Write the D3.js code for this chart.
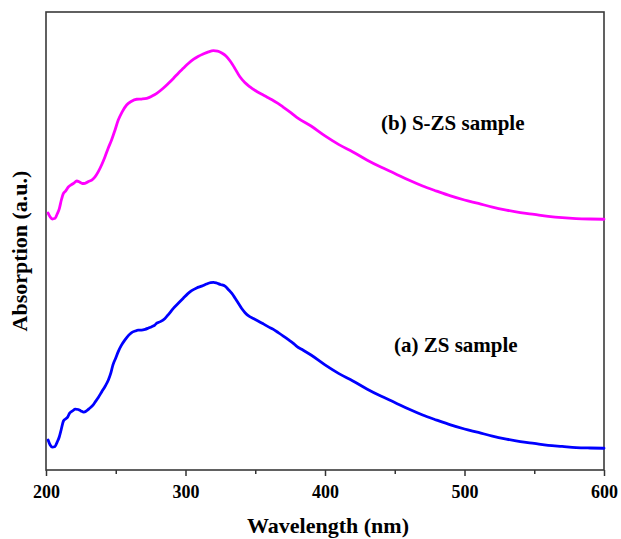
<!DOCTYPE html>
<html>
<head>
<meta charset="utf-8">
<script src="https://cdn.jsdelivr.net/npm/d3@7"></script>
<style>
  html, body { margin: 0; padding: 0; background: #fff; }
  svg { display: block; }
  text { font-family: "Liberation Serif", "Times New Roman", serif; font-weight: bold; fill: #000; }
</style>
</head>
<body>
<svg id="chart" width="621" height="539"></svg>
<script>
// UV-Vis absorption spectra (arbitrary units)
const wavelengthA = [201.5,203,204.5,206.5,208,209.5,211,212.5,214,215.5,217,219,221,223,225,227,229,231.5,233.5,235,237.5,240,242.5,244.7,246.5,248,250,251.8,254,256.6,259,261.4,264,266,268.5,271,273.5,275.8,278,279.4,282,285.3,288,291.3,295,298.4,301.5,304.4,308,311.6,315,318,320,322,325,328.3,331,333.1,335.5,337.9,340.3,342.7,345.5,348.6,352,355.8,359.5,363,366.5,370.1,373.5,377.3,380,383.3,390,400,410,420,430,440,450,460,470,480,490,500,510,520,530,540,550,560,570,580,590,600];
const absorbanceA = [0.131,0.109,0.100,0.103,0.122,0.144,0.179,0.214,0.223,0.231,0.249,0.258,0.266,0.264,0.258,0.253,0.258,0.271,0.282,0.295,0.317,0.342,0.367,0.393,0.424,0.459,0.489,0.517,0.544,0.568,0.587,0.600,0.607,0.611,0.611,0.614,0.620,0.626,0.633,0.641,0.648,0.662,0.681,0.706,0.729,0.750,0.769,0.783,0.795,0.803,0.812,0.818,0.819,0.817,0.810,0.803,0.786,0.772,0.751,0.728,0.705,0.687,0.672,0.662,0.651,0.638,0.625,0.614,0.600,0.585,0.570,0.553,0.539,0.527,0.502,0.459,0.421,0.389,0.354,0.323,0.295,0.266,0.240,0.218,0.197,0.179,0.164,0.148,0.135,0.124,0.116,0.108,0.103,0.098,0.096,0.095];

const wavelengthB = [201.5,203,204.5,206.5,208,209.5,211,212.5,214,216,218,220,222,224,226,228,230.5,232.8,235,237.5,240,242.3,244.5,247,249.5,251.8,254.5,257.8,261,265,268.5,272.2,276,279.4,284,288,291.3,295,298.4,302,305.6,309,312.8,316.5,320,323,326,329,332,335,339,342.5,346,350,354,358,362,366,370,375,380,390,400,410,420,430,440,450,460,470,480,490,500,510,520,530,540,550,560,570,580,590,600];
const absorbanceB = [1.122,1.105,1.096,1.099,1.118,1.140,1.179,1.208,1.218,1.236,1.245,1.253,1.262,1.258,1.251,1.252,1.260,1.266,1.279,1.303,1.334,1.368,1.404,1.441,1.485,1.528,1.563,1.594,1.609,1.619,1.620,1.623,1.633,1.645,1.667,1.690,1.710,1.734,1.754,1.775,1.793,1.806,1.817,1.826,1.831,1.829,1.821,1.808,1.786,1.758,1.717,1.692,1.674,1.657,1.643,1.630,1.617,1.602,1.585,1.563,1.539,1.502,1.459,1.421,1.389,1.354,1.323,1.295,1.266,1.240,1.218,1.197,1.179,1.164,1.148,1.135,1.124,1.116,1.108,1.102,1.098,1.096,1.095];

const majorTicks = [200, 300, 400, 500, 600];
const minorTicks = [250, 350, 450, 550];
const seriesLabels = ["(a) ZS sample", "(b) S-ZS sample"];

const svg = d3.select("#chart");
const plot = { left: 46, top: 12, right: 604, bottom: 470 };

const x = d3.scaleLinear().domain([200, 600]).range([plot.left, plot.right]);
const y = d3.scaleLinear().domain([0, 2]).range([plot.bottom, plot.top]);

// bottom axis: major ticks with labels, minor ticks without
const majorAxis = d3.axisBottom(x).tickValues(majorTicks).tickSize(6).tickFormat(d3.format("d"));
const minorAxis = d3.axisBottom(x).tickValues(minorTicks).tickSize(4).tickFormat("");

const gMajor = svg.append("g").attr("transform", `translate(0,${plot.bottom})`).call(majorAxis);
gMajor.select(".domain").remove();
gMajor.selectAll(".tick line").attr("stroke", "#333").attr("stroke-width", 1.5);
gMajor.selectAll(".tick text")
  .attr("y", 15)
  .attr("dy", "0.71em")
  .style("font-size", "18px")
  .style("font-family", "'Liberation Serif', serif")
  .style("font-weight", "bold")
  .attr("fill", "#000");

const gMinor = svg.append("g").attr("transform", `translate(0,${plot.bottom})`).call(minorAxis);
gMinor.select(".domain").remove();
gMinor.selectAll(".tick line").attr("stroke", "#333").attr("stroke-width", 1.5);

// plot frame
svg.append("rect")
  .attr("x", plot.left).attr("y", plot.top)
  .attr("width", plot.right - plot.left).attr("height", plot.bottom - plot.top)
  .attr("fill", "none").attr("stroke", "#3a3a3a").attr("stroke-width", 1.6);

// spectra
const line = d3.line().x(d => x(d[0])).y(d => y(d[1])).curve(d3.curveMonotoneX);
const series = [
  { w: wavelengthA, a: absorbanceA, color: "#0000ff" },
  { w: wavelengthB, a: absorbanceB, color: "#ff00ff" }
];
series.forEach(s => {
  svg.append("path")
    .datum(s.w.map((w, i) => [w, s.a[i]]))
    .attr("fill", "none")
    .attr("stroke", s.color)
    .attr("stroke-width", 2.8)
    .attr("stroke-linejoin", "round")
    .attr("stroke-linecap", "round")
    .attr("d", line);
});

// series annotations
svg.append("text").attr("x", 394).attr("y", 352).style("font-size", "21px").text(seriesLabels[0]);
svg.append("text").attr("x", 381).attr("y", 130).style("font-size", "21px").text(seriesLabels[1]);

// axis titles
svg.append("text")
  .attr("x", (plot.left + plot.right) / 2 + 3).attr("y", 533)
  .attr("text-anchor", "middle")
  .style("font-size", "22px")
  .text("Wavelength (nm)");

svg.append("text")
  .attr("transform", "translate(27,251) rotate(-90)")
  .attr("text-anchor", "middle")
  .style("font-size", "22px")
  .text("Absorption (a.u.)");
</script>
</body>
</html>
